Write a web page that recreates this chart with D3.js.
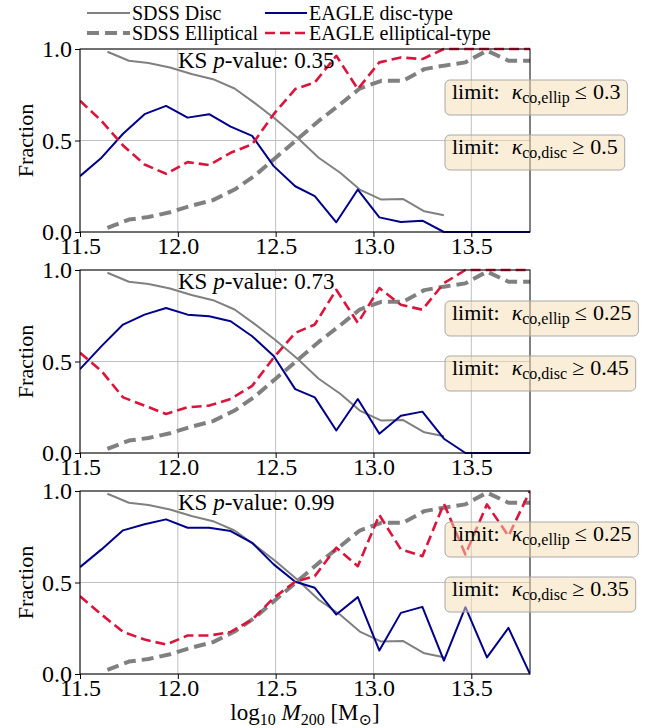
<!DOCTYPE html>
<html><head><meta charset="utf-8">
<script src="https://cdn.jsdelivr.net/npm/d3@7"></script>
<style>body{margin:0;background:#fff} svg text{font-family:"Liberation Serif","Times New Roman",Times,"DejaVu Serif",serif;}</style>
</head><body>
<svg id="c" width="660" height="728"></svg>
<script>
// ---- data ----
const eagleX = [11.50, 11.61, 11.72, 11.83, 11.94, 12.05, 12.16, 12.27, 12.38, 12.49, 12.60, 12.70, 12.81, 12.92, 13.03, 13.14, 13.25, 13.36, 13.47, 13.58, 13.69, 13.80];
const sdssX = [11.64, 11.75, 11.85, 11.96, 12.07, 12.18, 12.29, 12.39, 12.50, 12.61, 12.72, 12.83, 12.93, 13.04, 13.15, 13.26, 13.36, 13.47, 13.58, 13.69, 13.80];
const sdssDisc = [0.985, 0.936, 0.923, 0.899, 0.863, 0.835, 0.784, 0.707, 0.616, 0.516, 0.406, 0.324, 0.232, 0.177, 0.181, 0.113, 0.091];
const sdssEllip = [0.022, 0.068, 0.082, 0.108, 0.144, 0.174, 0.232, 0.305, 0.406, 0.506, 0.607, 0.698, 0.784, 0.826, 0.826, 0.890, 0.909, 0.927, 0.991, 0.936, 0.936];
const eagleDisc1 = [0.305, 0.406, 0.537, 0.644, 0.689, 0.625, 0.644, 0.576, 0.525, 0.360, 0.250, 0.196, 0.053, 0.232, 0.080, 0.055, 0.062, 0, 0, 0, 0, 0];
const eagleEllip1 = [0.717, 0.607, 0.473, 0.369, 0.318, 0.382, 0.366, 0.433, 0.479, 0.644, 0.781, 0.817, 0.963, 0.781, 0.927, 0.954, 0.945, 1, 1, 1, 1, 1];
const eagleDisc2 = [0.458, 0.584, 0.702, 0.756, 0.792, 0.756, 0.747, 0.720, 0.638, 0.530, 0.349, 0.304, 0.123, 0.295, 0.105, 0.204, 0.226, 0.078, 0, 0, 0, 0];
const eagleEllip2 = [0.548, 0.448, 0.304, 0.259, 0.213, 0.250, 0.259, 0.295, 0.367, 0.521, 0.656, 0.702, 0.892, 0.711, 0.901, 0.810, 0.783, 0.928, 1, 1, 1, 1];
const eagleDisc3 = [0.584, 0.681, 0.785, 0.818, 0.845, 0.799, 0.799, 0.781, 0.717, 0.599, 0.504, 0.471, 0.325, 0.420, 0.128, 0.334, 0.367, 0.073, 0.365, 0.091, 0.252, 0];
const eagleEllip3 = [0.425, 0.325, 0.230, 0.188, 0.161, 0.210, 0.210, 0.230, 0.297, 0.416, 0.504, 0.535, 0.690, 0.589, 0.869, 0.681, 0.644, 0.931, 0.653, 0.927, 0.754, 1.0];
const ksValues = ["0.35", "0.73", "0.99"];
const ellipLimits = ["0.3", "0.25", "0.25"];
const discLimits = ["0.5", "0.45", "0.35"];
const xTicks = [11.5, 12.0, 12.5, 13.0, 13.5];
const yTicks = [0.0, 0.5, 1.0];
const legendLabels = ["SDSS Disc", "SDSS Elliptical", "EAGLE disc-type", "EAGLE elliptical-type"];

// ---- layout ----
const L = 80, R = 530, H = 183;
const tops = [49, 270, 491];
const svg = d3.select("#c");
svg.append("rect").attr("width", 660).attr("height", 728).attr("fill", "#fff");

const x = d3.scaleLinear().domain([11.5, 13.8]).range([L, R]);

const styles = {
  sdssDisc: {stroke: "#808080", width: 2, dash: null},
  sdssEllip: {stroke: "#808080", width: 4, dash: "12,6"},
  eagleDisc: {stroke: "#00008b", width: 2, dash: null},
  eagleEllip: {stroke: "#dc143c", width: 2.6, dash: "10,5"}
};

const eagleDisc = [eagleDisc1, eagleDisc2, eagleDisc3];
const eagleEllip = [eagleEllip1, eagleEllip2, eagleEllip3];

tops.forEach((top, i) => {
  const y = d3.scaleLinear().domain([0, 1]).range([top + H, top]);
  const g = svg.append("g");
  // grid
  g.selectAll(".gx").data(xTicks).enter().append("line")
    .attr("x1", d => x(d)).attr("x2", d => x(d)).attr("y1", top).attr("y2", top + H)
    .attr("stroke", "#b0b0b0").attr("stroke-width", 0.8);
  g.selectAll(".gy").data(yTicks).enter().append("line")
    .attr("x1", L).attr("x2", R).attr("y1", d => y(d)).attr("y2", d => y(d))
    .attr("stroke", "#b0b0b0").attr("stroke-width", 0.8);

  const clipId = "clip" + i;
  svg.append("clipPath").attr("id", clipId).append("rect")
    .attr("x", L).attr("y", top - 2).attr("width", R - L).attr("height", H + 4);
  const lg = g.append("g").attr("clip-path", `url(#${clipId})`);
  const line = d3.line().x(d => x(d[0])).y(d => y(d[1]));
  const series = [
    [sdssX.slice(0, sdssDisc.length), sdssDisc, styles.sdssDisc],
    [sdssX, sdssEllip, styles.sdssEllip],
    [eagleX, eagleDisc[i], styles.eagleDisc],
    [eagleX, eagleEllip[i], styles.eagleEllip]
  ];
  series.forEach(([xs, ys, st]) => {
    lg.append("path").datum(xs.map((v, k) => [v, ys[k]]))
      .attr("d", line).attr("fill", "none")
      .attr("stroke", st.stroke).attr("stroke-width", st.width)
      .attr("stroke-dasharray", st.dash).attr("stroke-linejoin", "round");
  });

  // axes
  const xa = g.append("g").attr("transform", `translate(0,${top + H})`)
    .call(d3.axisBottom(x).tickValues(xTicks).tickFormat(d3.format(".1f")).tickSize(5).tickPadding(3));
  const ya = g.append("g").attr("transform", `translate(${L},0)`)
    .call(d3.axisLeft(y).tickValues(yTicks).tickFormat(d3.format(".1f")).tickSize(5).tickPadding(3));
  [xa, ya].forEach(a => {
    a.attr("font-family", null);
    a.select(".domain").remove();
    a.selectAll("line").attr("stroke", "#000").attr("stroke-width", 1);
    a.selectAll("text").attr("font-size", 24).attr("fill", "#000");
  });
  xa.selectAll("text").attr("dy", "0.6em");
  ya.selectAll("text").attr("dy", "0.33em");
  // spines
  g.append("rect").attr("x", L).attr("y", top).attr("width", R - L).attr("height", H)
    .attr("fill", "none").attr("stroke", "#000").attr("stroke-width", 1);

  // KS text
  const ks = g.append("text").attr("x", 178).attr("y", top + 19)
    .attr("font-size", 23).attr("fill", "#000");
  ks.append("tspan").text("KS ");
  ks.append("tspan").attr("font-style", "italic").text("p");
  ks.append("tspan").text("-value: " + ksValues[i]);

  // limit boxes
  [["ellip", "\u2264", ellipLimits[i], 31], ["disc", "\u2265", discLimits[i], 86]].forEach(([sub, op, val, off]) => {
    const bg = g.append("g");
    const rect = bg.append("rect");
    const t = bg.append("text").attr("x", 452).attr("y", top + off + 19)
      .attr("font-size", 22).attr("fill", "#000");
    t.append("tspan").text("limit:");
    t.append("tspan").attr("font-style", "italic").attr("dx", 12).text("\u03BA");
    t.append("tspan").attr("font-size", 16).attr("dy", 4).text("co," + sub);
    t.append("tspan").attr("dy", -4).attr("dx", 5).text(op);
    t.append("tspan").attr("dx", 6).text(val);
    const bb = t.node().getBBox();
    rect.attr("x", 445).attr("y", top + off).attr("width", bb.x + bb.width + 7 - 445).attr("height", 35)
      .attr("rx", 5).attr("ry", 5)
      .attr("fill", "rgba(245,222,179,0.5)").attr("stroke", "#a8a8a8").attr("stroke-width", 1);
  });

  // y label
  g.append("text").attr("transform", `translate(33,${top + H / 2}) rotate(-90)`)
    .attr("text-anchor", "middle").attr("font-size", 22).text("Fraction");
});

// x label
const xl = svg.append("text").attr("x", (L + R) / 2).attr("y", 720).attr("text-anchor", "middle")
  .attr("font-size", 23).attr("fill", "#000");
xl.append("tspan").text("log");
xl.append("tspan").attr("font-size", 16).attr("dy", 5).text("10");
xl.append("tspan").attr("dy", -5).text(" ");
xl.append("tspan").attr("font-style", "italic").text("M");
xl.append("tspan").attr("font-size", 16).attr("dy", 5).text("200");
xl.append("tspan").attr("dy", -5).text(" [M");
xl.append("tspan").attr("font-size", 16).attr("dy", 5).text("\u2299");
xl.append("tspan").attr("dy", -5).text("]");

// legend
const legItems = [
  [87, 130, 13, styles.sdssDisc, legendLabels[0], 132],
  [87, 130, 33, styles.sdssEllip, legendLabels[1], 132],
  [265, 307, 13, styles.eagleDisc, legendLabels[2], 309],
  [265, 307, 33, styles.eagleEllip, legendLabels[3], 309]
];
const leg = svg.append("g");
legItems.forEach(([x1, x2, yy, st, lab, tx]) => {
  leg.append("line").attr("x1", x1).attr("x2", x2).attr("y1", yy).attr("y2", yy)
    .attr("stroke", st.stroke).attr("stroke-width", st.width).attr("stroke-dasharray", st.dash);
  leg.append("text").attr("x", tx).attr("y", yy + 7).attr("font-size", 20)
    .attr("fill", "#000").text(lab);
});
</script>
</body></html>
